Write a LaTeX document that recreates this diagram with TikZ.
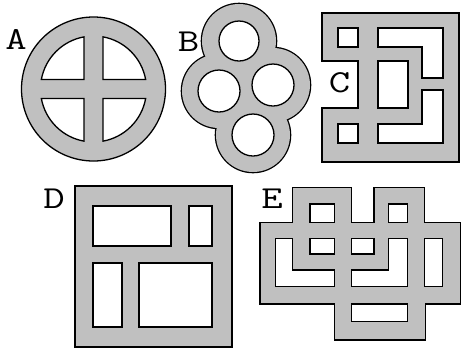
\documentclass[tikz,border=0pt]{standalone}
\tikzset{
  solid/.style={fill=shapegray,draw=black,line width=1.3pt,line join=miter},
  hole/.style={fill=white,draw=black,line width=1.3pt,line join=miter},
  lbl/.style={font=\ttfamily\fontsize{32}{32}\selectfont,inner sep=0pt,xscale=1.3,transform shape}
}
\definecolor{shapegray}{RGB}{192,192,192}
\begin{document}
\begin{tikzpicture}[x=1pt,y=-1pt]
\useasboundingbox[fill=white] (0,0) rectangle (462,349);
% A
\draw[solid] (93.5,89) circle[radius=72];
\begin{scope}[shift={(93.5,89)}]
\foreach \a in {0,90,180,270}
  \draw[hole,rotate=\a] (9.5,9.5) -- (9.5,52.14) arc[start angle=79.68,end angle=10.32,radius=53] -- cycle;
\end{scope}
\node[lbl] (la) at (16,39) {A};
% B
\foreach \p in {(239,41),(219,91),(273,85),(253,135)}
  \draw[line width=2.6pt] \p circle[radius=37];
\foreach \p in {(239,41),(219,91),(273,85),(253,135)}
  \fill[shapegray] \p circle[radius=37];
\draw[hole] (239,41) circle[radius=20];
\draw[hole] (219,91) circle[radius=21];
\draw[hole] (273,85) circle[radius=21];
\draw[hole] (253,135) circle[radius=21];
\node[lbl] (lb) at (188.5,41.5) {B};
% C
\draw[solid] (322,13) -- (459,13) -- (459,162) -- (322,162) -- (322,108) -- (358,108) -- (358,61) -- (322,61) -- cycle;
\draw[hole] (338,28) rectangle (358,47);
\draw[hole] (338,124) rectangle (358,143);
\draw[hole] (378,61) rectangle (408,108);
\draw[hole] (378,28) -- (443,28) -- (443,78) -- (422,78) -- (422,47) -- (378,47) -- cycle;
\draw[hole] (422,90) -- (443,90) -- (443,143) -- (378,143) -- (378,124) -- (422,124) -- cycle;
\node[lbl] (lc) at (339.5,83) {C};
% D
\draw[solid] (75,186) rectangle (232,347);
\draw[hole] (93,206) rectangle (171,246);
\draw[hole] (189,206) rectangle (212,246);
\draw[hole] (93,263) rectangle (122,327);
\draw[hole] (139,263) rectangle (212,327);
\node[lbl] (ld) at (54,199) {D};
% E
\draw[solid] (292.7,187.3) -- (351.7,187.3) -- (351.7,222.3) -- (374,222.3) -- (374,187.3) -- (424.5,187.3) -- (424.5,222.3) -- (460.7,222.3) -- (460.7,304) -- (425.2,304) -- (425.2,340) -- (334.3,340) -- (334.3,304) -- (260,304) -- (260,222.3) -- (292.7,222.3) -- cycle;
\draw[hole] (310,204) rectangle (334.3,222.3);
\draw[hole] (388.3,204) rectangle (407.7,222.3);
\draw[hole] (310,238.3) rectangle (334.3,254);
\draw[hole] (351.7,238.3) rectangle (374,254);
\draw[hole] (275.7,238.3) -- (292.7,238.3) -- (292.7,270) -- (334.3,270) -- (334.3,286.7) -- (275.7,286.7) -- cycle;
\draw[hole] (388.3,238.3) -- (407.7,238.3) -- (407.7,286.7) -- (351.7,286.7) -- (351.7,270) -- (388.3,270) -- cycle;
\draw[hole] (424.5,238.3) rectangle (442.7,286.7);
\draw[hole] (351.7,304) rectangle (407.7,321.7);
\node[lbl] (le) at (272,198.5) {E};
\end{tikzpicture}
\end{document}
